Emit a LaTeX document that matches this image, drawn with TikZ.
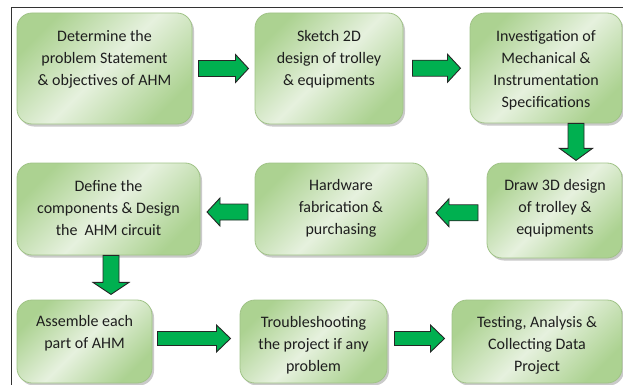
\documentclass[tikz,border=0pt]{standalone}
\usepackage{fontspec}
\setmainfont{Carlito}
\usetikzlibrary{shadows,calc}
\definecolor{boxdark}{RGB}{172,210,145}
\definecolor{boxlight}{RGB}{230,241,222}
\definecolor{boxline}{RGB}{160,195,135}
\definecolor{arrowgreen}{RGB}{0,176,80}
\definecolor{txt}{RGB}{30,30,30}
\tikzset{
  stepbox/.style={draw=boxline, line width=0.8pt, rounded corners=15pt,
    left color=boxdark, right color=boxdark, middle color=boxlight, shading angle=45,
    drop shadow={shadow xshift=2pt, shadow yshift=-2.5pt, opacity=0.35, fill=black!60},
    inner sep=0pt},
  steptext/.style={align=center, font=\fontsize{16}{22}\selectfont, text=txt, inner sep=0pt},
  arrowbody/.style={draw=black!85, line width=0.9pt, fill=arrowgreen, line join=miter},
  pics/blkarrow/.style args={#1/#2/#3/#4}{code={
    \draw[arrowbody] (-#1/2,-#2/2) -- ({#1/2-#4},-#2/2) -- ({#1/2-#4},-#3/2) -- (#1/2,0)
      -- ({#1/2-#4},#3/2) -- ({#1/2-#4},#2/2) -- (-#1/2,#2/2) -- cycle;
  }},
}
\begin{document}
\begin{tikzpicture}[x=1pt,y=-1pt]
\useasboundingbox (0,0) rectangle (623,385);
\draw[black!80, line width=0.8pt] (11,385) -- (11,7) -- (623,7);
% boxes
\node[stepbox, minimum width=175pt, minimum height=111pt] (b1) at (104.5,68.5) {};
\node[stepbox, minimum width=148pt, minimum height=111pt] (b2) at (329,68.5) {};
\node[stepbox, minimum width=152pt, minimum height=110pt] (b3) at (546,68) {};
\node[stepbox, minimum width=183pt, minimum height=92pt] (b4) at (108.5,209) {};
\node[stepbox, minimum width=172pt, minimum height=92pt] (b5) at (341,209) {};
\node[stepbox, minimum width=135pt, minimum height=95pt] (b6) at (554.5,210.5) {};
\node[stepbox, minimum width=135pt, minimum height=83pt] (b7) at (84.5,341.5) {};
\node[stepbox, minimum width=147pt, minimum height=83pt] (b8) at (313.5,341.5) {};
\node[stepbox, minimum width=170pt, minimum height=83pt] (b9) at (537,341.5) {};
% texts
\node[steptext] (t1) at (104.5,59) {Determine the\\problem Statement\\\& objectives of AHM};
\node[steptext] (t2) at (329,59) {Sketch 2D\\design of trolley\\\& equipments};
\node[steptext] (t3) at (546,70) {Investigation of\\Mechanical \&\\Instrumentation\\Specifications};
\node[steptext] (t4) at (108.5,208) {Define the\\components \& Design\\the~ AHM circuit};
\node[steptext] (t5) at (341,208) {Hardware\\fabrication \&\\purchasing};
\node[steptext] (t6) at (555,208) {Draw 3D design\\of trolley \&\\equipments};
\node[steptext] (t7) at (84.5,333.5) {Assemble each\\part of AHM};
\node[steptext] (t8) at (313.5,345) {Troubleshooting\\the project if any\\problem};
\node[steptext] (t9) at (537,345) {Testing, Analysis \&\\Collecting Data\\Project};
% arrows (length/body/head width/head length)
\pic (a1) at ($(b1.east)!0.5!(b2.west)$) {blkarrow={50/16/28/13}};
\pic (a2) at ($(b2.east)!0.5!(b3.west)$) {blkarrow={48/16/28/13}};
\pic[rotate=-90] (a3) at ($(b3.south)+(30,18.5)$) {blkarrow={37/16/33/12}};
\pic[rotate=180] (a4) at ($(b6.west)!0.5!(b5.east)+(0,3)$) {blkarrow={42/16/28/13}};
\pic[rotate=180] (a5) at ($(b5.west)!0.5!(b4.east)+(0,3)$) {blkarrow={41/16/28/13}};
\pic[rotate=-90] (a6) at ($(b4.south)+(2.5,19.5)$) {blkarrow={39/16/36/12}};
\pic (a7) at ($(b7.east)!0.5!(b8.west)+(-2,-3)$) {blkarrow={73/14/27/14}};
\pic (a8) at ($(b8.east)!0.5!(b9.west)+(0,-3)$) {blkarrow={50/14/27/14}};
\end{tikzpicture}
\end{document}
